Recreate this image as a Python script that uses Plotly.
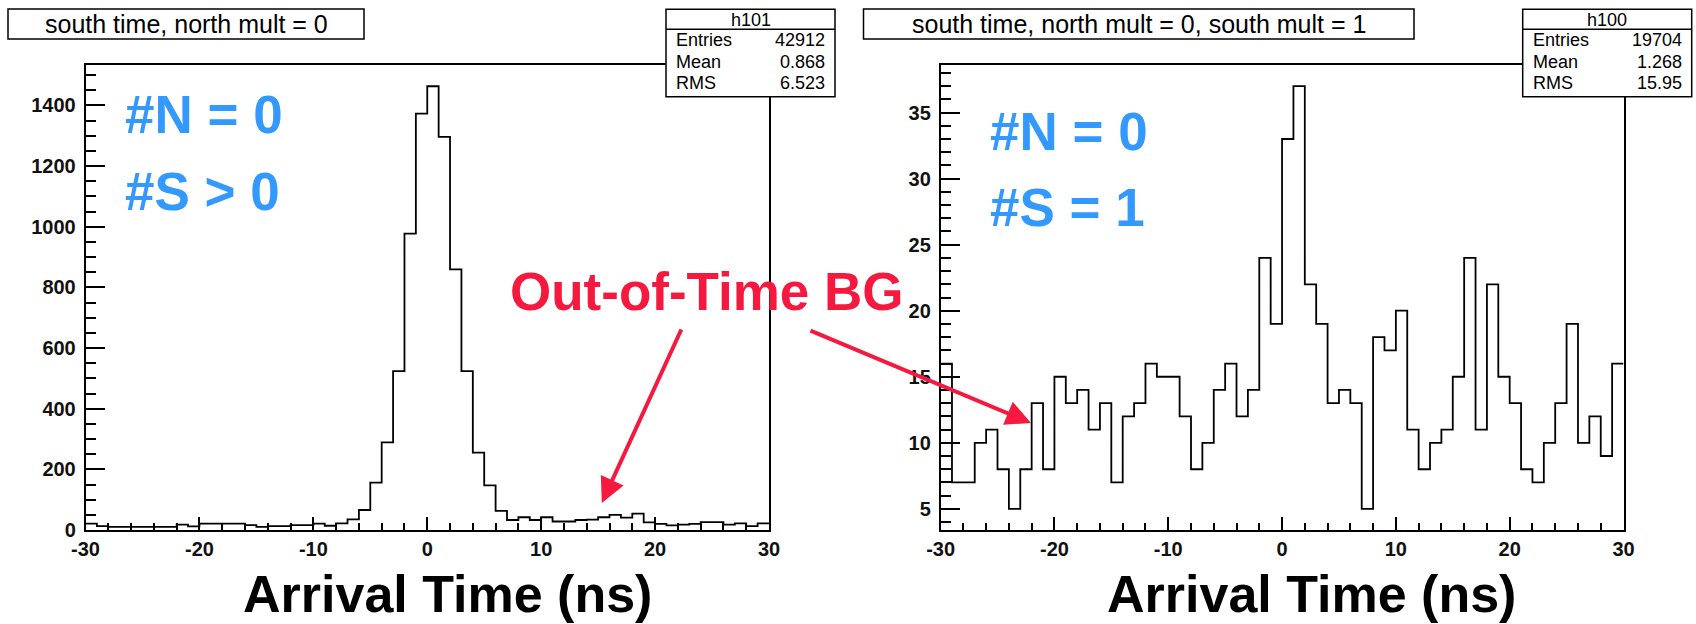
import plotly.graph_objects as go

# ---------------- data ----------------
bin_edges = list(range(-30, 31))  # 60 bins of 1 ns

left_counts = [21, 13, 10, 10, 10, 10, 10, 10, 18, 12,
               21, 21, 21, 21, 16, 10, 13, 13, 16, 16,
               21, 14, 22, 35, 66, 156, 289, 524, 977, 1373,
               1463, 1296, 859, 524, 255, 147, 63, 33, 42, 33,
               42, 28, 28, 33, 34, 42, 50, 41, 54, 25,
               20, 15, 18, 20, 26, 26, 18, 22, 13, 22]

right_counts = [16, 7, 7, 10, 11, 8, 5, 8, 13, 8,
                15, 13, 14, 11, 13, 7, 12, 13, 16, 15,
                15, 12, 8, 10, 14, 16, 12, 14, 24, 19,
                33, 37, 22, 19, 13, 14, 13, 5, 18, 17,
                20, 11, 8, 10, 11, 15, 24, 11, 22, 15,
                13, 8, 7, 10, 13, 19, 10, 12, 9, 16]

x_tick_vals = [-30, -20, -10, 0, 10, 20, 30]
x_tick_text = ["-30", "-20", "-10", "0", "10", "20", "30"]

left_title = "south time, north mult = 0"
right_title = "south time, north mult = 0, south mult = 1"
stat_labels = ["Entries", "Mean", "RMS"]
left_hist_name = "h101"
left_stat_values = ["42912", "0.868", "6.523"]
right_hist_name = "h100"
right_stat_values = ["19704", "1.268", "15.95"]
x_title = "Arrival Time (ns)"
left_notes = ["#N = 0", "#S > 0"]
right_notes = ["#N = 0", "#S = 1"]
bg_label = "Out-of-Time BG"

# ---------------- layout helpers ----------------
W, H = 1696, 624
FONT = "Liberation Sans, Arial, Helvetica, sans-serif"
TICKFONT = "Liberation Sans, Arial, sans-serif"
BLUE = "#3399ff"
RED = "#f5193f"


def px(x):
    return x / W


def py(y):
    return 1 - y / H


fig = go.Figure()


def add_hist(counts, xa, ya):
    fig.add_trace(go.Scatter(
        x=bin_edges, y=counts + [counts[-1]], mode="lines",
        line=dict(shape="hv", color="black", width=1.8),
        xaxis=xa, yaxis=ya, showlegend=False, hoverinfo="skip"))


add_hist(left_counts, "x", "y")
add_hist(right_counts, "x2", "y2")

tickfont = dict(family=TICKFONT, size=20, color="#111111", weight="bold")
common_x = dict(range=[-30, 30], showline=True, linecolor="black", linewidth=1.5,
                mirror=True, ticks="inside", ticklen=13, tickwidth=1.5,
                tickcolor="black", tickmode="array", tickvals=x_tick_vals,
                ticktext=x_tick_text, showgrid=False, automargin=False,
                zeroline=False, tickfont=tickfont, fixedrange=True,
                minor=dict(ticks="inside", ticklen=7, dtick=2, tick0=0,
                           tickwidth=1.5, tickcolor="black", showgrid=False))
common_y = dict(showline=True, linecolor="black", linewidth=1.5, mirror=True,
                ticks="inside", ticklen=20, tickwidth=1.5, tickcolor="black",
                showgrid=False, zeroline=False, tickfont=tickfont,
                fixedrange=True, ticklabelstandoff=4, automargin=False)

ydom = [py(530), py(65)]
fig.update_layout(
    template="none",
    width=W, height=H, margin=dict(l=0, r=0, t=0, b=0, pad=0, autoexpand=False),
    paper_bgcolor="white", plot_bgcolor="white", showlegend=False,
    xaxis=dict(domain=[px(85.5), px(769)], anchor="y", **common_x),
    yaxis=dict(domain=ydom, anchor="x", range=[0, 1533], dtick=200, tick0=0,
               minor=dict(ticks="inside", ticklen=11, dtick=50, tickwidth=1.5,
                          tickcolor="black", showgrid=False), **common_y),
    xaxis2=dict(domain=[px(940.6), px(1623.5)], anchor="y2", **common_x),
    yaxis2=dict(domain=ydom, anchor="x2", range=[3.4, 38.6], dtick=5, tick0=0,
                minor=dict(ticks="inside", ticklen=11, dtick=1, tickwidth=1.5,
                           tickcolor="black", showgrid=False), **common_y),
)

shapes = []
annotations = []


def box(x0, y0, x1, y1):
    shapes.append(dict(type="rect", xref="paper", yref="paper",
                       x0=px(x0), x1=px(x1), y0=py(y1), y1=py(y0),
                       line=dict(color="black", width=1.5), fillcolor="white",
                       layer="above"))


def text(x, y, s, size, color="black", bold=False, xanchor="center",
         yanchor="middle", family=FONT):
    annotations.append(dict(
        x=px(x), y=py(y), xref="paper", yref="paper",
        text=("<b>%s</b>" % s) if bold else s,
        showarrow=False, xanchor=xanchor, yanchor=yanchor, borderpad=0,
        font=dict(family=family, size=size, color=color)))


# title boxes
box(8, 9, 364, 39)
text(186, 24, left_title, 25)
box(863.5, 9, 1414, 39)
text(1138.7, 24, right_title, 25)

# stats boxes
for (x0, name, vals) in [(666, left_hist_name, left_stat_values),
                         (1522.7, right_hist_name, right_stat_values)]:
    x1 = x0 + 169
    box(x0, 9.3, x1, 96.7)
    shapes.append(dict(type="line", xref="paper", yref="paper",
                       x0=px(x0), x1=px(x1), y0=py(29.3), y1=py(29.3),
                       line=dict(color="black", width=1.5), layer="above"))
    text((x0 + x1) / 2, 19.5, name, 18)
    for i, (lab, val) in enumerate(zip(stat_labels, vals)):
        yy = 40 + i * 21.7
        text(x0 + 9, yy, lab, 18, xanchor="left")
        text(x1 - 9, yy, val, 18, xanchor="right")

# blue notes
text(124, 114, left_notes[0], 53, BLUE, True, "left")
text(124, 191, left_notes[1], 53, BLUE, True, "left")
text(989, 131.5, right_notes[0], 53, BLUE, True, "left")
text(989, 208, right_notes[1], 53, BLUE, True, "left")

# red label and arrows
text(508.5, 291, bg_label, 53, RED, True, "left")
for (tx, ty, sx, sy) in [(601.8, 503, 682, 328), (1031, 423, 809, 330)]:
    annotations.append(dict(
        x=px(tx), y=py(ty), xref="paper", yref="paper", text="",
        showarrow=True, ax=sx - tx, ay=sy - ty, arrowhead=2, arrowsize=1.25,
        arrowwidth=4, arrowcolor=RED, standoff=0))

# x axis titles (anchored to the bottom edge so nothing is clipped)
text(447, 623.5, x_title, 52, "black", True, yanchor="bottom")
text(1311, 623.5, x_title, 52, "black", True, yanchor="bottom")

fig.update_layout(shapes=shapes, annotations=annotations)

fig.write_html("out.html", config={"displayModeBar": False},
               post_script="document.body.style.margin='0';")
